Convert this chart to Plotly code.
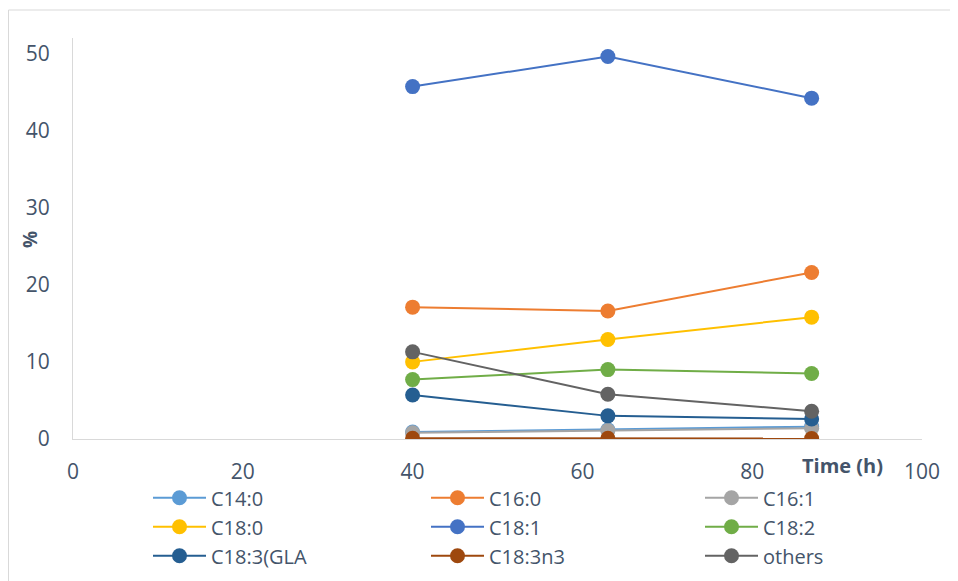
import plotly.graph_objects as go

time_h = [40, 63, 87]
series_names = ["C14:0", "C16:0", "C16:1", "C18:0", "C18:1", "C18:2", "C18:3(GLA", "C18:3n3", "others"]
c14_0 = [0.9, 1.2, 1.6]
c16_0 = [17.1, 16.6, 21.6]
c16_1 = [0.8, 1.1, 1.4]
c18_0 = [10.0, 12.9, 15.8]
c18_1 = [45.7, 49.6, 44.2]
c18_2 = [7.7, 9.0, 8.5]
c18_3_gla = [5.7, 3.0, 2.6]
c18_3n3 = [0.1, 0.1, 0.05]
others = [11.3, 5.8, 3.6]

values = [c14_0, c16_0, c16_1, c18_0, c18_1, c18_2, c18_3_gla, c18_3n3, others]
colors = ["#5B9BD5", "#ED7D31", "#A5A5A5", "#FFC000", "#4472C4", "#70AD47",
          "#255E91", "#9E480E", "#636363"]
legend_ids = ["legend", "legend2", "legend3"]

fig = go.Figure()
for i, (name, vals, col) in enumerate(zip(series_names, values, colors)):
    fig.add_trace(go.Scatter(
        x=time_h, y=vals, name=name, mode="lines+markers",
        line=dict(color=col, width=2),
        marker=dict(color=col, size=15),
        legend=legend_ids[i % 3], legendgroup=name,
    ))

FONT = "Open Sans"
TXT = "#44546A"
L, T, PW, PH = 65, 30, 849, 401
leg_common = dict(orientation="v", xanchor="left", yanchor="top", y=-0.098,
                  bgcolor="rgba(0,0,0,0)", tracegroupgap=0, itemwidth=53,
                  font=dict(family=FONT, size=20, color=TXT))
fig.update_layout(
    width=950, height=573,
    margin=dict(l=L, r=36, t=T, b=142, autoexpand=False),
    paper_bgcolor="white", plot_bgcolor="white",
    font=dict(family=FONT, size=21, color=TXT),
    xaxis=dict(range=[0, 100], tickvals=[0, 20, 40, 60, 80, 100], showgrid=False,
               zeroline=False, showline=True, linecolor="#D9D9D9", linewidth=1,
               ticks="outside", ticklen=14, tickcolor="rgba(0,0,0,0)",
               tickfont=dict(size=21)),
    yaxis=dict(range=[0, 52], tickvals=[0, 10, 20, 30, 40, 50], showgrid=False,
               zeroline=False, showline=True, linecolor="#D9D9D9", linewidth=1,
               ticks="outside", ticklen=18, tickcolor="rgba(0,0,0,0)",
               tickfont=dict(size=21)),
    legend=dict(x=(140 - L) / PW, **leg_common),
    legend2=dict(x=(418 - L) / PW, **leg_common),
    legend3=dict(x=(692 - L) / PW, **leg_common),
    showlegend=True,
)
fig.add_annotation(text="<b>Time (h)</b>", xref="paper", yref="paper",
                   x=(834 - L) / PW, y=(PH + T - 457) / PH, showarrow=False,
                   xanchor="center", yanchor="middle",
                   font=dict(family=FONT, size=20, color=TXT))
fig.add_annotation(text="<b>%</b>", xref="paper", yref="paper",
                   x=(22 - L) / PW, y=(PH + T - 232) / PH, showarrow=False,
                   xanchor="center", yanchor="middle",
                   textangle=-90, font=dict(family=FONT, size=19, color=TXT))
fig.add_shape(type="rect", xref="paper", yref="paper",
              x0=(0.5 - L) / PW, x1=1.2, y0=-0.6, y1=(PH + T - 2) / PH,
              line=dict(color="#D9D9D9", width=1), layer="below")
fig.write_html("out.html")
